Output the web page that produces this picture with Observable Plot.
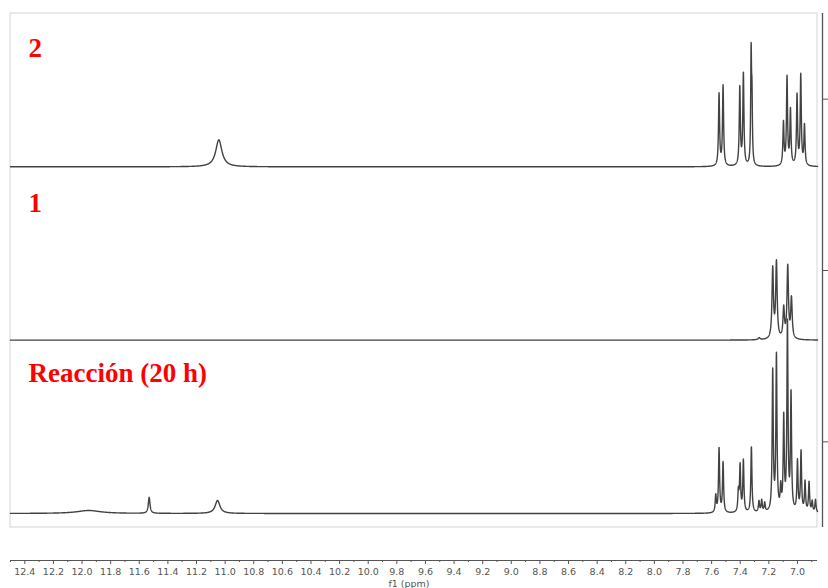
<!DOCTYPE html>
<html>
<head>
<meta charset="utf-8">
<script src="https://cdn.jsdelivr.net/npm/d3@7"></script>
<script src="https://cdn.jsdelivr.net/npm/@observablehq/plot@0.6"></script>
<style>
  html, body { margin: 0; padding: 0; background: #fff; }
  #chart { width: 828px; height: 588px; }
</style>
</head>
<body>
<div id="chart"></div>
<script>
// ---- Spectrum names (top to bottom) ----
const spectrumNames = ["2", "1", "Reacción (20 h)"];

// ---- Peaks: spectrum "2" (top) ----
const peaksTop_ppm    = [11.044, 7.548, 7.520, 7.403, 7.378, 7.324, 7.318, 7.098, 7.073, 7.049, 7.003, 6.977, 6.951];
const peaksTop_height = [27,     72,    80,    78,    92,    108,   60,    43,    88,    55,    70,    90,    40];
const peaksTop_width  = [0.026,  0.0045, 0.0045, 0.0045, 0.0045, 0.0035, 0.0035, 0.0045, 0.0045, 0.0045, 0.0045, 0.0045, 0.0045];

// ---- Peaks: spectrum "1" (middle) ----
const peaksMid_ppm    = [7.268, 7.173, 7.147, 7.096, 7.068, 7.042];
const peaksMid_height = [2,     70,    76,    30,    72,    40];
const peaksMid_width  = [0.008, 0.006, 0.006, 0.006, 0.006, 0.006];

// ---- Peaks: "Reacción (20 h)" (bottom) ----
const peaksBot_ppm    = [11.953, 11.531, 11.053, 7.571, 7.548, 7.520, 7.413, 7.401, 7.378, 7.322, 7.269, 7.250, 7.229, 7.173, 7.147, 7.117, 7.096, 7.070, 7.045, 7.000, 6.975, 6.947, 6.919, 6.897, 6.874];
const peaksBot_height = [3,      16,     13,     17,    64,    50,    20,    46,    52,    66,    11,    12,    9,     140,   155,   22,    92,    188,   116,   50,    60,    30,    30,    11,    13];
const peaksBot_width  = [0.10,   0.007,  0.02,   0.0045, 0.0045, 0.0045, 0.0045, 0.0045, 0.0045, 0.0045, 0.0045, 0.0045, 0.0045, 0.0045, 0.0045, 0.0045, 0.0045, 0.0045, 0.0045, 0.0045, 0.0045, 0.0045, 0.0045, 0.0045, 0.0045];

// ---- Baseline level of each trace within its panel (a.u.) ----
const baselineLevel = [18, 16, 14];

// ---- Label anchor (ppm) and label baseline (panel units) ----
const labelPpm = 12.374;
const labelLevel = [2.749, 1.844, 0.852];

// ---- Axis ticks ----
const majorTicks = [12.4, 12.2, 12.0, 11.8, 11.6, 11.4, 11.2, 11.0, 10.8, 10.6, 10.4, 10.2, 10.0, 9.8, 9.6, 9.4, 9.2, 9.0, 8.8, 8.6, 8.4, 8.2, 8.0, 7.8, 7.6, 7.4, 7.2, 7.0];
const minorTicks = [12.5, 12.3, 12.1, 11.9, 11.7, 11.5, 11.3, 11.1, 10.9, 10.7, 10.5, 10.3, 10.1, 9.9, 9.7, 9.5, 9.3, 9.1, 8.9, 8.7, 8.5, 8.3, 8.1, 7.9, 7.7, 7.5, 7.3, 7.1, 6.9];
const intensityTicks = [0.5, 1.5, 2.5];

// ---- Build table ----
const ppmMax = 12.5, ppmMin = 6.86;
const panelSpan = 171.3; // a.u. per panel
const peakSets = [
  {ppm: peaksTop_ppm, h: peaksTop_height, w: peaksTop_width, panel: 2},
  {ppm: peaksMid_ppm, h: peaksMid_height, w: peaksMid_width, panel: 1},
  {ppm: peaksBot_ppm, h: peaksBot_height, w: peaksBot_width, panel: 0}
];
const rows = [];
peakSets.forEach((set, k) => {
  const name = spectrumNames[k];
  const base = baselineLevel[k];
  for (let x = ppmMax; x >= ppmMin - 1e-9; x -= 0.0008) {
    let v = 0;
    for (let i = 0; i < set.ppm.length; i++) {
      const d = x - set.ppm[i], w = set.w[i];
      v += set.h[i] * w * w / (d * d + w * w);
    }
    rows.push({spectrum: name, ppm: x, y: set.panel + (base + v) / panelSpan});
  }
});
const labels = spectrumNames.map((n, k) => ({name: n, ppm: labelPpm, y: labelLevel[k]}));

const chart = Plot.plot({
  width: 828,
  height: 588,
  marginLeft: 10,
  marginRight: 11,
  marginTop: 13,
  marginBottom: 28,
  style: {fontFamily: "'DejaVu Sans', Verdana, sans-serif", background: "#fff"},
  x: {domain: [ppmMax, ppmMin]},
  y: {domain: [0, 3], range: [527, 13]},
  marks: [
    Plot.rect([0], {x1: () => ppmMax, x2: () => ppmMin, y1: () => 0, y2: () => 3, fill: "none", stroke: "#dcdcdc", strokeWidth: 1.2}),
    Plot.ruleX([ppmMin], {y1: 0, y2: 3, dx: 5, stroke: "#555", strokeWidth: 1.3}),
    Plot.axisY({anchor: "right", ticks: intensityTicks, tickSize: 5, tickFormat: () => "", label: null, dx: 5, stroke: "#555"}),
    Plot.lineY(rows, {x: "ppm", y: "y", z: "spectrum", stroke: "#424242", strokeWidth: 1.4}),
    Plot.text(labels, {x: "ppm", y: "y", text: "name", textAnchor: "start", lineAnchor: "bottom", fill: "#ff0000", fontFamily: "'Liberation Serif', 'Times New Roman', serif", fontWeight: "bold", fontSize: 27}),
    Plot.ruleY([0], {dy: 33, stroke: "#555", strokeWidth: 1.2}),
    Plot.axisX({ticks: majorTicks, tickSize: 4, tickPadding: 4, tickFormat: d3.format(".1f"), label: null, fontSize: 9.5, stroke: "#555", fill: "#555"}),
    Plot.axisX({ticks: minorTicks, tickSize: 2, tickFormat: () => "", label: null, stroke: "#555"}),
    Plot.text(["f1 (ppm)"], {frameAnchor: "bottom", dy: 23, dx: -5, lineAnchor: "middle", fontSize: 9.5, fill: "#555"})
  ]
});
document.getElementById("chart").appendChild(chart);
</script>
</body>
</html>
